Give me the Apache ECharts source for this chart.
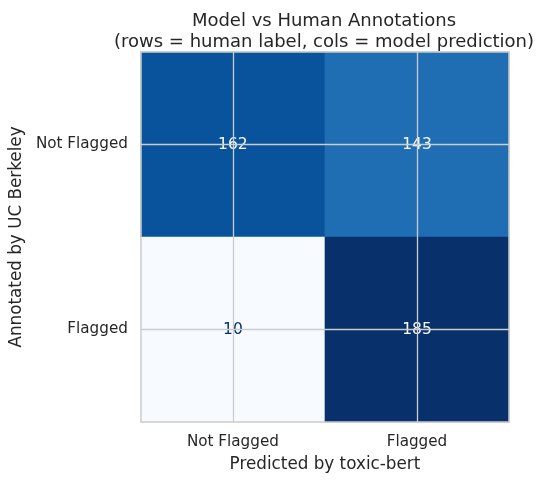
<!DOCTYPE html>
<html>
<head>
<meta charset="utf-8">
<script src="https://cdn.jsdelivr.net/npm/echarts@6/dist/echarts.min.js"></script>
<style>
html,body{margin:0;padding:0;background:#fff;}
#chart{width:544px;height:484px;}
</style>
</head>
<body>
<div id="chart"></div>
<script>
// ---- data ----
const titleLines = ['Model vs Human Annotations', '(rows = human label, cols = model prediction)'];
const colLabels = ['Not Flagged', 'Flagged'];   // model prediction
const rowLabels = ['Not Flagged', 'Flagged'];   // human label
const rowNotFlagged = [162, 143];
const rowFlagged = [10, 185];
const xAxisTitle = 'Predicted by toxic-bert';
const yAxisTitle = 'Annotated by UC Berkeley';
const bluesColors = ['#f7fbff','#deebf7','#c6dbef','#9ecae1','#6baed6','#4292c6','#2171b5','#08519c','#08306b'];

const rows = [rowNotFlagged, rowFlagged];
const allVals = rows.flat();
const vMin = Math.min(...allVals), vMax = Math.max(...allVals);
const thresh = (vMin + vMax) / 2;
const cells = [];
rows.forEach((r, yi) => r.forEach((v, xi) => {
  cells.push({
    value: [xi, yi, v],
    label: { color: v < thresh ? '#08306b' : '#f7fbff' }
  });
}));

const FONT = 'DejaVu Sans';
const TXT = '#262626';
const GRIDC = '#cccccc';

const chart = echarts.init(document.getElementById('chart'), null, {renderer: 'canvas'});
chart.setOption({
  backgroundColor: '#ffffff',
  animation: false,
  textStyle: { fontFamily: FONT },
  title: {
    text: titleLines.join('\n'),
    left: 319, top: 6, textAlign: 'center',
    textStyle: { fontFamily: FONT, fontSize: 18, fontWeight: 'normal', color: TXT, lineHeight: 21 }
  },
  grid: { left: 140, right: 35, top: 52, bottom: 62, containLabel: false },
  visualMap: {
    show: false, type: 'continuous', min: vMin, max: vMax, dimension: 2,
    inRange: { color: bluesColors }
  },
  xAxis: [{
    type: 'category', data: colLabels, position: 'bottom',
    axisLine: { show: true, lineStyle: { color: GRIDC, width: 1.5 } },
    axisTick: { show: false }, splitLine: { show: false },
    axisLabel: { fontFamily: FONT, fontSize: 15.2, color: TXT, margin: 13 },
    name: xAxisTitle, nameLocation: 'middle', nameGap: 34,
    nameTextStyle: { fontFamily: FONT, fontSize: 16.8, color: TXT },
    z: 10
  }, {
    type: 'category', data: colLabels, position: 'top',
    axisLine: { show: true, lineStyle: { color: GRIDC, width: 1.5 } },
    axisTick: { show: false }, axisLabel: { show: false }, splitLine: { show: false },
    z: 10
  }],
  yAxis: [{
    type: 'category', data: rowLabels, inverse: true, position: 'left',
    axisLine: { show: true, lineStyle: { color: GRIDC, width: 1.5 } },
    axisTick: { show: false }, splitLine: { show: false },
    axisLabel: { fontFamily: FONT, fontSize: 15.2, color: TXT, margin: 13 },
    name: yAxisTitle, nameLocation: 'middle', nameGap: 112, nameRotate: 90,
    nameTextStyle: { fontFamily: FONT, fontSize: 16.8, color: TXT },
    z: 10
  }, {
    type: 'category', data: rowLabels, inverse: true, position: 'right',
    axisLine: { show: true, lineStyle: { color: GRIDC, width: 1.5 } },
    axisTick: { show: false }, axisLabel: { show: false }, splitLine: { show: false },
    z: 10
  }],
  series: [{
    type: 'heatmap', xAxisIndex: 0, yAxisIndex: 0,
    data: cells,
    label: { show: true, fontFamily: FONT, fontSize: 15.5, formatter: p => String(p.value[2]) },
    itemStyle: { borderWidth: 0 },
    emphasis: { disabled: true },
    markLine: {
      silent: true, symbol: 'none', z: 4,
      label: { show: false },
      lineStyle: { color: GRIDC, type: 'solid', width: 1.3 },
      data: [{ xAxis: 0 }, { xAxis: 1 }, { yAxis: 0 }, { yAxis: 1 }]
    }
  }]
});
</script>
</body>
</html>
